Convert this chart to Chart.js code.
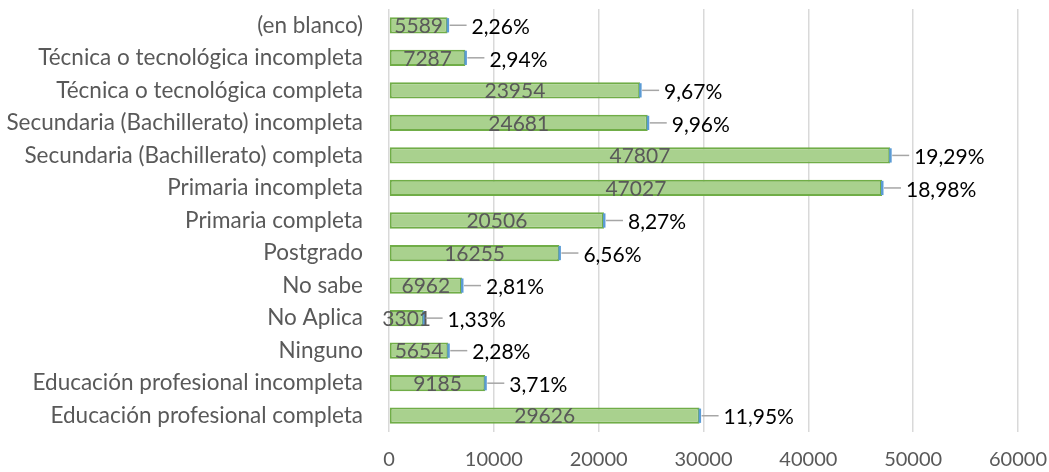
<!DOCTYPE html>
<html>
<head>
<meta charset="utf-8">
<script src="https://cdn.jsdelivr.net/npm/chart.js@4/dist/chart.umd.min.js"></script>
<style>
html,body{margin:0;padding:0;background:#fff;}
#wrap{width:1049px;height:472px;position:relative;}
</style>
</head>
<body>
<div id="wrap"><canvas id="c" width="1049" height="472"></canvas></div>
<script>
const categories = [
  "(en blanco)",
  "Técnica o tecnológica incompleta",
  "Técnica o tecnológica completa",
  "Secundaria (Bachillerato) incompleta",
  "Secundaria (Bachillerato) completa",
  "Primaria incompleta",
  "Primaria completa",
  "Postgrado",
  "No sabe",
  "No Aplica",
  "Ninguno",
  "Educación profesional incompleta",
  "Educación profesional completa"
];
const counts = [5589, 7287, 23954, 24681, 47807, 47027, 20506, 16255, 6962, 3301, 5654, 9185, 29626];
const percentLabels = ["2,26%", "2,94%", "9,67%", "9,96%", "19,29%", "18,98%", "8,27%", "6,56%", "2,81%", "1,33%", "2,28%", "3,71%", "11,95%"];
const xTicks = [0, 10000, 20000, 30000, 40000, 50000, 60000];

const FONT = "Lato, 'Open Sans', sans-serif";

const labelPlugin = {
  id: 'barLabels',
  afterDatasetsDraw(chart) {
    const ctx = chart.ctx;
    const meta = chart.getDatasetMeta(0);
    ctx.save();
    meta.data.forEach((bar, i) => {
      const x0 = bar.base, x1 = bar.x, y = bar.y, h = bar.height;
      // blue end cap
      ctx.fillStyle = '#5B9BD5';
      ctx.fillRect(x1 - 1, y - h / 2 + 1, 2.5, h - 2);
      // count label centered
      ctx.font = '21px ' + FONT;
      ctx.fillStyle = '#595959';
      ctx.textAlign = 'center';
      ctx.textBaseline = 'middle';
      ctx.fillText(String(counts[i]), (x0 + x1) / 2, y + 1);
      // leader + percent label
      const off = 24;
      ctx.strokeStyle = '#A6A6A6';
      ctx.lineWidth = 1.5;
      ctx.beginPath();
      ctx.moveTo(x1 + 2, y);
      ctx.lineTo(x1 + off - 5, y);
      ctx.stroke();
      ctx.fillStyle = '#000000';
      ctx.textAlign = 'left';
      ctx.fillText(percentLabels[i], x1 + off, y + 2);
    });
    ctx.restore();
  }
};

new Chart(document.getElementById('c'), {
  type: 'bar',
  data: {
    labels: categories,
    datasets: [{
      data: counts,
      backgroundColor: '#A9D18E',
      borderColor: '#70AD47',
      borderWidth: 2,
      borderSkipped: false,
      categoryPercentage: 0.5,
      barPercentage: 1.0
    }]
  },
  options: {
    indexAxis: 'y',
    responsive: false,
    animation: false,
    layout: { padding: { left: 0, right: 31, top: 9, bottom: 0 } },
    plugins: { legend: { display: false }, tooltip: { enabled: false } },
    scales: {
      x: {
        min: 0, max: 60000,
        afterBuildTicks(axis) { axis.ticks = xTicks.map(v => ({ value: v })); },
        grid: { color: '#D9D9D9', lineWidth: 1.5, drawTicks: false },
        border: { display: false },
        ticks: {
          color: '#595959', font: { family: FONT, size: 20 }, padding: 16, maxRotation: 0,
          callback: (v) => String(v)
        },
        afterFit(axis) { axis.height = 40; axis.paddingLeft = 0; axis.paddingRight = 0; }
      },
      y: {
        grid: { display: false, drawTicks: false },
        border: { display: false },
        ticks: { color: '#595959', font: { family: FONT, size: 22.5 }, padding: 26, autoSkip: false },
        afterFit(axis) { axis.width = 389; axis.paddingTop = 0; axis.paddingBottom = 0; }
      }
    }
  },
  plugins: [labelPlugin]
});
</script>
</body>
</html>
